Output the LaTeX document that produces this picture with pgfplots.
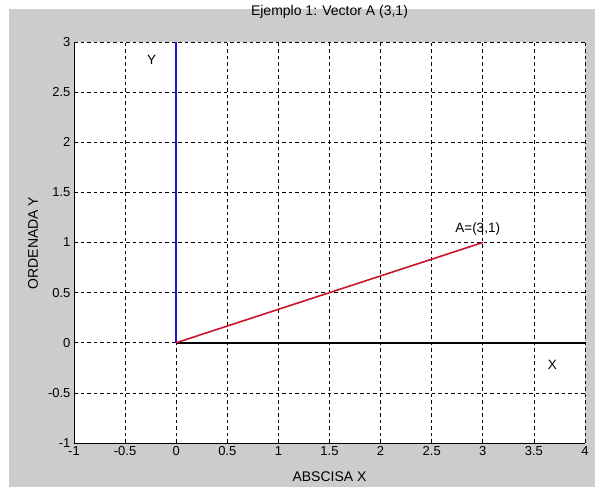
\documentclass[border=0pt]{standalone}
\usepackage{fontspec}
\setmainfont{Liberation Sans}
\usepackage{pgfplots}
\pgfplotsset{compat=1.18}
\definecolor{figgray}{RGB}{204,204,204}
\definecolor{vecred}{RGB}{200,20,45}
\definecolor{vecblue}{RGB}{20,20,230}

\begin{document}
\begin{tikzpicture}[x=1pt,y=1pt]
\fill[white] (0,0) rectangle (595,487);
\fill[figgray] (9,0) rectangle (595,478);
\begin{axis}[
  at={(74pt,44pt)}, anchor=south west,
  scale only axis, width=511pt, height=401pt,
  xmin=-1, xmax=4, ymin=-1, ymax=3,
  xtick={-1,-0.5,0,0.5,1,1.5,2,2.5,3,3.5,4},
  ytick={-1,-0.5,0,0.5,1,1.5,2,2.5,3},
  axis lines=left, axis line style={-, black, line width=0.8pt},
  axis background/.style={fill=white},
  tick align=inside, major tick length=4pt,
  tick style={black, line width=0.6pt},
  grid=major,
  major grid style={black, line width=0.6pt, dash pattern=on 3.5pt off 3pt},
  /pgf/number format/assume math mode=true,
  tick label style={font=\fontsize{13}{15}\selectfont},
  clip=false,
]
\addplot[vecblue, line width=2pt] coordinates {(0,0) (0,3)};
\addplot[black, line width=1.6pt] coordinates {(0,0) (4,0)};
\addplot[vecred, line width=1.6pt] coordinates {(0,0) (3,1)};
\node[font=\fontsize{13.5}{15}\selectfont] at (axis cs:-0.24,2.82) {Y};
\node[font=\fontsize{13.5}{15}\selectfont] at (axis cs:3.68,-0.22) {X};
\node[font=\fontsize{13.5}{15}\selectfont] at (axis cs:2.95,1.135) {A=(3,1)};
\end{axis}
% title and axis labels
\node[font=\fontsize{14}{16}\selectfont] at (329.5,475) {Ejemplo 1: Vector A (3,1)};
\node[font=\fontsize{14}{16}\selectfont] at (329.5,10) {ABSCISA X};
\node[font=\fontsize{14}{16}\selectfont, rotate=90] at (33,244) {ORDENADA Y};
\pgfresetboundingbox
\path (0,0) rectangle (595,487);
\end{tikzpicture}
\end{document}
